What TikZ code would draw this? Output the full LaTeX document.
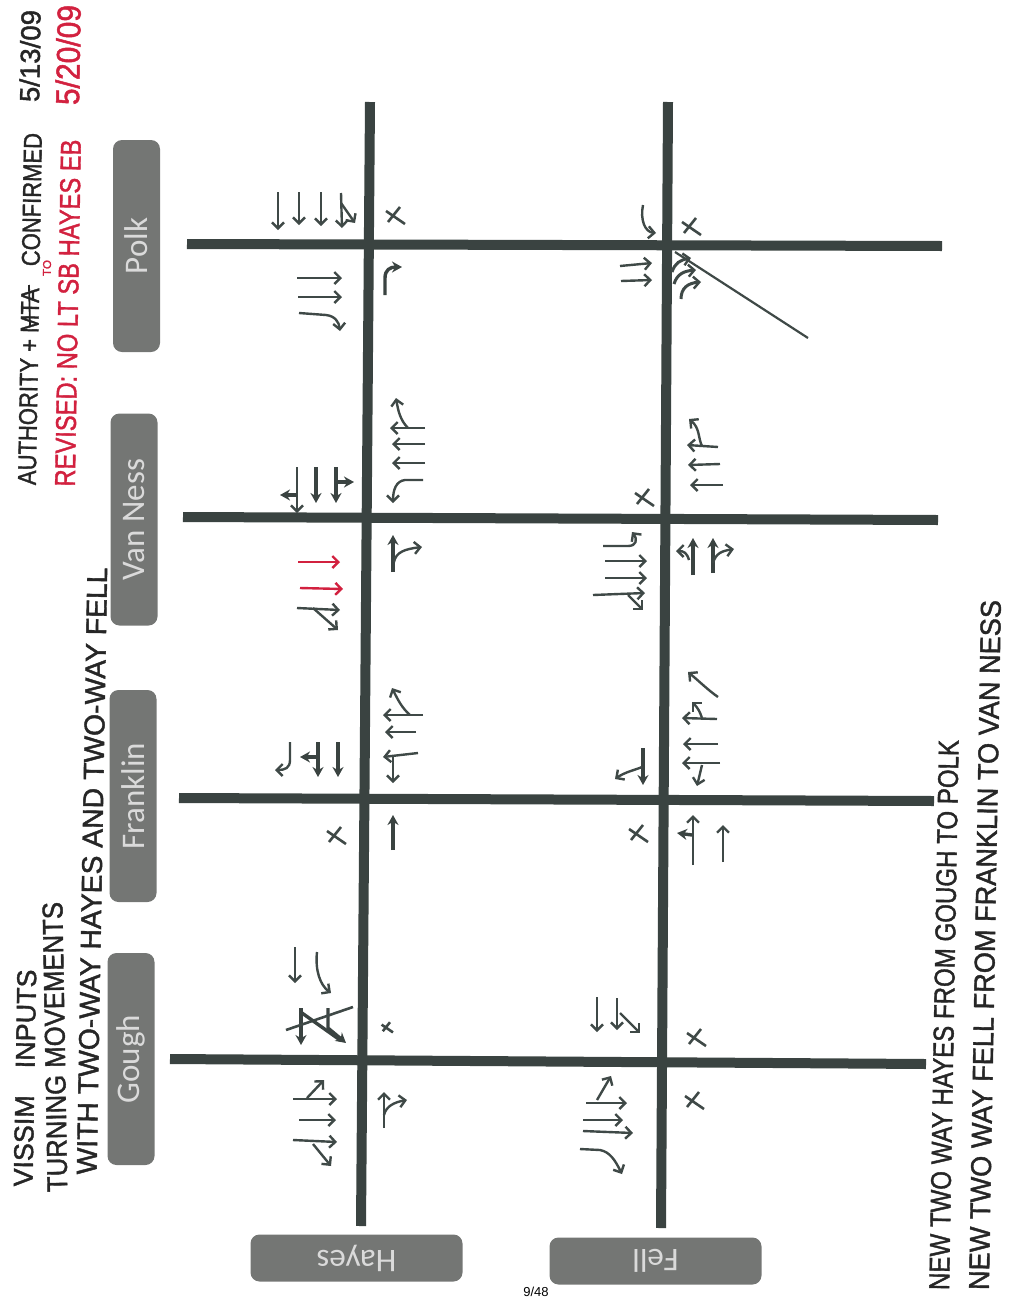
\documentclass[tikz,border=0pt]{standalone}
\usepackage{fontspec}
\usepackage{graphicx}
\setmainfont{Liberation Sans}
\newfontfamily\signfont{Carlito}
\newfontfamily\handfont[FakeBold=1.5]{Liberation Sans}
\usetikzlibrary{arrows.meta}

\definecolor{road}{HTML}{3A4341}
\definecolor{pen}{HTML}{3F4947}
\definecolor{sign}{HTML}{747674}
\definecolor{signtext}{HTML}{DADADA}
\definecolor{redpen}{HTML}{D2213F}

\tikzset{
  street/.style={color=road, line width=10pt},
  mv/.style={color=pen, line width=2.4pt, -{Straight Barb[length=6pt,width=12pt,line width=2.4pt]}},
  mvb/.style={color=road, line width=3.4pt, -{Stealth[length=10pt,width=11pt]}},
  mvred/.style={mv, color=redpen},
  nomv/.style={color=pen, line width=2.6pt},
  signbox/.style={fill=sign, rounded corners=9pt, minimum width=212pt, minimum height=47pt, inner sep=0pt, text=signtext, font=\signfont\fontsize{33}{35}\selectfont},
  hand/.style={inner sep=0pt, text=black!85, rotate=89, font=\handfont},
  handred/.style={hand, text=redpen}
}
\newcommand{\handtext}[3]{\resizebox{#1pt}{#2pt}{#3}}
\newcommand{\nomark}[2]{\draw[nomv, shift={(#1,#2)}] (-9,-4)--(10,9) (5,-8)--(-7,7);}

\begin{document}
\begin{tikzpicture}[x=1pt,y=-1pt]
\useasboundingbox (0,0) rectangle (1010,1299);

% streets
\draw[street] (370,102)--(361,1226);
\draw[street] (668,102)--(661,1228);
\draw[street] (187,244)--(942,246);
\draw[street] (183,517)--(938,520);
\draw[street] (179,798)--(934,801);
\draw[street] (170,1059)--(926,1064);

\node[signbox, rotate=90] (polk) at (136.5,246) {Polk};
\node[signbox, rotate=90] (vanness) at (134,519.5) {Van Ness};
\node[signbox, rotate=90] (franklin) at (133,796) {Franklin};
\node[signbox, rotate=90] (gough) at (131,1059) {Gough};
\node[signbox, rotate=180] (hayes) at (356.5,1258) {Hayes};
\node[signbox, rotate=180] (fell) at (655.5,1261) {Fell};

% notes
\node[hand] (vissim) at (25,1078) {\handtext{217}{19}{VISSIM\quad INPUTS}};
\node[hand, rotate=2] (turning) at (55,1047) {\handtext{290}{20}{TURNING MOVEMENTS}};
\node[hand] (twoway) at (92,871) {\handtext{607}{20}{WITH TWO-WAY HAYES AND TWO-WAY FELL}};
\node[hand] (authority) at (30,309) {\handtext{352}{18}{AUTHORITY + MTA\quad CONFIRMED}};
\draw[color=black!85, line width=1.8pt] (29,285)--(30,326);
\node[hand] (date) at (30,56) {\handtext{92}{20}{5/13/09}};
\node[handred] (revised) at (68,313) {\handtext{347}{20}{REVISED: NO LT SB HAYES EB}};
\node[handred] (revto) at (47,268) {\handtext{16}{8}{TO}};
\node[handred] (revdate) at (68,55) {\handtext{100}{24}{5/20/09}};
\node[hand] (newhayes) at (944,1015) {\handtext{550}{20}{NEW TWO WAY HAYES FROM GOUGH TO POLK}};
\node[hand] (newfell) at (985,945) {\handtext{690}{20}{NEW TWO WAY FELL FROM FRANKLIN TO VAN NESS}};
\node[inner sep=0pt, font=\fontsize{13}{15}\selectfont] (page) at (536,1292) {9/48};

% Hayes at Polk
\draw[mv] (278,192)--(278,230);
\draw[mv] (299,192)--(299,225);
\draw[mv] (321,192)--(321,226);
\draw[mv] (341,193)--(342,228);
\draw[mv] (341,203)--(355,223);
\nomark{395}{215}
\draw[mvb] (385,295)--(385,278) .. controls (385,270) and (390,267) .. (402,267);
\draw[mv] (297,278)--(342,278);
\draw[mv] (298,297)--(342,297);
\draw[mv] (299,313)--(326,315) .. controls (335,316) and (339,322) .. (340,331);

% Fell at Polk
\draw[mv] (643,205) .. controls (640,220) and (645,232) .. (656,233);
\nomark{691}{226}
\draw[mv] (620,266)--(652,263);
\draw[mv] (621,281)--(652,280);
\draw[color=pen, line width=2.2pt] (675,252)--(808,338);
\draw[mv, line width=3pt] (681,299) .. controls (681,288) and (688,283) .. (701,282);
\draw[mv, line width=3pt] (674,284) .. controls (677,274) and (684,271) .. (696,270);
\draw[mv, line width=3pt] (672,272) .. controls (675,263) and (680,260) .. (691,258);

% Hayes at Van Ness
\draw[mv] (297,467)--(297,513);
\draw[mvb] (297,495)--(280,495);
\draw[mvb] (316,467)--(316,503);
\draw[mvb] (336,467)--(336,503);
\draw[mvb] (336,482)--(354,482);
\draw[mv] (425,428)--(390,428);
\draw[mv] (408,428) .. controls (400,420) and (398,410) .. (396,398);
\draw[mv] (425,444)--(392,444);
\draw[mv] (425,463)--(392,463);
\draw[mv] (423,480)--(405,480) .. controls (396,481) and (393,490) .. (393,503);
\draw[mvb] (393,572)--(393,535);
\draw[mv] (394,562) .. controls (396,552) and (405,549) .. (422,547);
\draw[mvred] (298,562)--(340,562);
\draw[mvred] (300,588)--(343,589);
\draw[mv] (297,608)--(340,610);
\draw[mv] (313,608)--(338,630);

% Hayes at Franklin
\draw[mv] (290,742)--(290,760) .. controls (290,768) and (285,770) .. (275,770);
\draw[mvb] (318,742)--(318,777);
\draw[mvb] (318,757)--(300,757);
\draw[mvb] (338,742)--(338,777);
\draw[mv] (423,715)--(383,715);
\draw[mv] (410,715) .. controls (402,708) and (398,700) .. (392,688);
\draw[mv] (416,732)--(385,732);
\draw[mv] (418,753)--(383,757);
\draw[mv] (393,757)--(393,783);
\nomark{336}{835}
\draw[mvb] (393,850)--(393,815);

% Hayes at Gough
\draw[mv] (295,947)--(295,983);
\draw[mv] (317,952) .. controls (315,970) and (320,985) .. (331,993);
\draw[mvb] (301,1008)--(301,1045);
\draw[mvb] (328,1008)--(328,1028)--(346,1043);
\draw[color=pen, line width=2.6pt] (286,1030)--(353,1007);
\draw[color=road, line width=3.4pt] (302,1013)--(340,1040);
\draw[nomv, shift={(387,1027)}, scale=.6] (-9,-4)--(10,9) (5,-8)--(-7,7);
\draw[mv] (293,1099)--(337,1099);
\draw[mv] (307,1098)--(324,1080);
\draw[mv] (299,1120)--(336,1120);
\draw[mv] (293,1140)--(337,1142);
\draw[mv] (313,1144)--(331,1166);
\draw[mv] (384,1128)--(384,1092);
\draw[mv] (384,1115) .. controls (386,1106) and (395,1102) .. (407,1100);

% Fell at Van Ness
\draw[mv] (718,447)--(687,445);
\draw[mv] (702,446) .. controls (698,438) and (700,428) .. (689,419);
\draw[mv] (720,464)--(688,465);
\draw[mv] (723,485)--(690,485);
\nomark{644}{497}
\draw[mv] (603,546)--(628,546) .. controls (636,546) and (638,540) .. (632,532);
\draw[mv] (605,561)--(647,561);
\draw[mv] (605,578)--(647,578);
\draw[mv] (593,595)--(645,593);
\draw[mv] (628,595)--(643,610);
\draw[mvb] (693,575)--(693,538);
\draw[mv] (689,560) .. controls (687,553) and (684,551) .. (676,551);
\draw[mvb] (713,573)--(713,538);
\draw[mv] (713,563) .. controls (716,553) and (722,551) .. (734,549);

% Fell at Franklin
\draw[mv] (718,697) .. controls (708,690) and (700,682) .. (688,672);
\draw[mv] (717,719)--(682,718);
\draw[mv] (702,718) .. controls (700,712) and (698,708) .. (692,702);
\draw[mv] (718,744)--(683,744);
\draw[mv] (720,763)--(682,763);
\draw[mv] (702,765)--(697,786);
\draw[mvb] (643,748)--(643,785);
\draw[mv] (642,767) .. controls (635,770) and (625,772) .. (615,779);
\nomark{638}{833}
\draw[mv] (693,865)--(693,815);
\draw[mvb] (692,835)--(677,833);
\draw[mv] (723,862)--(723,825);

% Fell at Gough
\draw[mv] (597,997)--(597,1032);
\draw[mv] (617,998)--(617,1030);
\draw[mv] (620,1013)--(640,1033);
\nomark{696}{1037}
\nomark{694}{1100}
\draw[mv] (586,1103)--(627,1103);
\draw[mv] (597,1100)--(611,1076);
\draw[mv] (583,1120)--(623,1120);
\draw[mv] (583,1131)--(633,1133);
\draw[mv] (580,1149)--(600,1150) .. controls (610,1152) and (615,1160) .. (622,1174);

\end{tikzpicture}
\end{document}
